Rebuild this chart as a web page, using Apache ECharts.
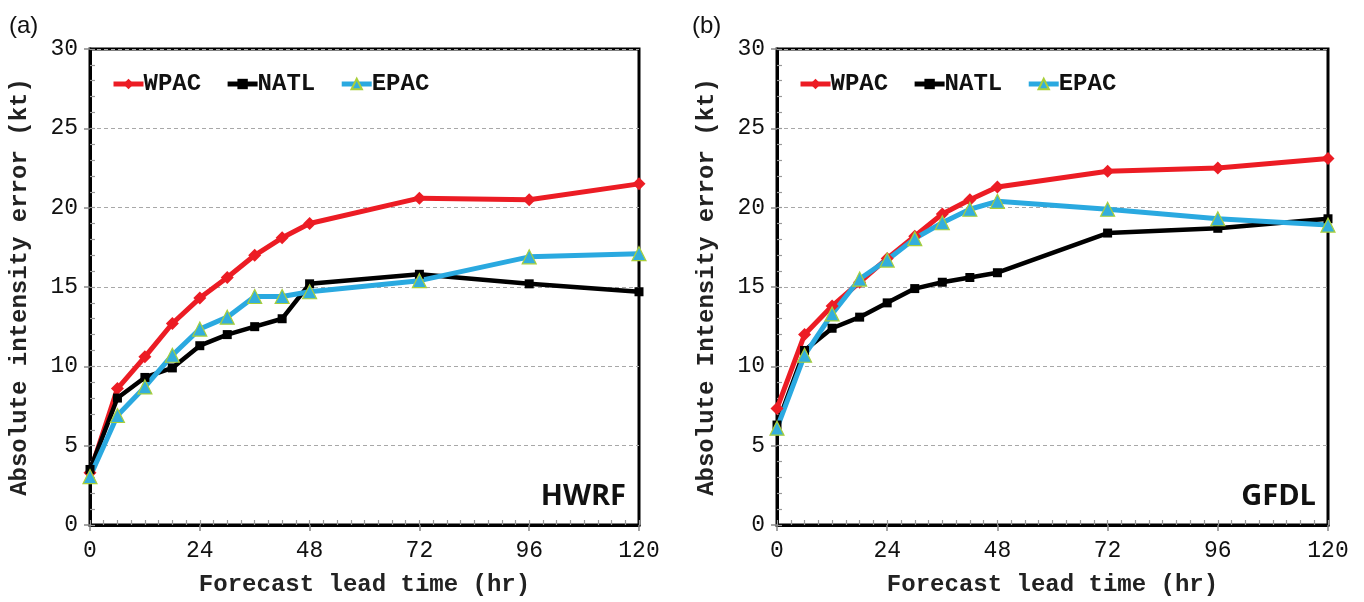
<!DOCTYPE html>
<html>
<head>
<meta charset="utf-8">
<script src="https://cdn.jsdelivr.net/npm/echarts@6/dist/echarts.min.js"></script>
<style>
html,body{margin:0;padding:0;background:#fff;}
#chart{width:1364px;height:602px;}
</style>
</head>
<body>
<div id="chart"></div>
<script>
// Forecast lead times (hr)
var leadTimes = [0, 6, 12, 18, 24, 30, 36, 42, 48, 72, 96, 120];
var seriesNames = ['WPAC', 'NATL', 'EPAC'];

// (a) HWRF absolute intensity error (kt)
var hwrfWPAC = [3.3, 8.6, 10.6, 12.7, 14.3, 15.6, 17.0, 18.1, 19.0, 20.6, 20.5, 21.5];
var hwrfNATL = [3.5, 8.0, 9.3, 9.9, 11.3, 12.0, 12.5, 13.0, 15.2, 15.8, 15.2, 14.7];
var hwrfEPAC = [3.05, 6.9, 8.7, 10.7, 12.35, 13.1, 14.4, 14.4, 14.7, 15.4, 16.9, 17.1];

// (b) GFDL absolute intensity error (kt)
var gfdlWPAC = [7.35, 12.0, 13.8, 15.3, 16.8, 18.2, 19.6, 20.5, 21.3, 22.3, 22.5, 23.1];
var gfdlNATL = [6.3, 11.0, 12.4, 13.1, 14.0, 14.9, 15.3, 15.6, 15.9, 18.4, 18.7, 19.3];
var gfdlEPAC = [6.1, 10.7, 13.3, 15.5, 16.7, 18.05, 19.05, 19.9, 20.4, 19.9, 19.3, 18.9];

var xTickInterval = 24, xMinorInterval = 3;
var yTickInterval = 5, yMinorInterval = 1;
var yTitles = ['Absolute intensity error (kt)', 'Absolute Intensity error (kt)'];
var xTitle = 'Forecast lead time (hr)';
var panelLabels = ['(a)', '(b)'];
var modelLabels = ['HWRF', 'GFDL'];

var colors = {WPAC: '#ec1c24', NATL: '#000000', EPAC: '#2aa9e0'};
var mono = '"Liberation Mono", "DejaVu Sans Mono", monospace';

var grids = [
  {left: 90, top: 49, width: 549, height: 479},
  {left: 777, top: 49, width: 551, height: 479}
];

function pairs(vals) { return leadTimes.map(function (t, i) { return [t, vals[i]]; }); }

var xAxes = [], yAxes = [], series = [];
grids.forEach(function (g, gi) {
  xAxes.push({
    type: 'value', gridIndex: gi, min: 0, max: 120, interval: xTickInterval, position: 'bottom',
    name: xTitle, nameLocation: 'middle', nameGap: 48,
    nameTextStyle: {fontFamily: mono, fontWeight: 'bold', fontSize: 24, color: '#222'},
    axisLine: {show: true, lineStyle: {color: '#000', width: 3}},
    axisTick: {show: true, inside: false, length: 6, lineStyle: {color: '#888', width: 1.5}},
    axisLabel: {fontFamily: mono, fontSize: 23, color: '#111', margin: 14},
    splitLine: {show: false}
  });
  yAxes.push({
    type: 'value', gridIndex: gi, min: 0, max: 30, interval: yTickInterval, position: 'left',
    name: yTitles[gi], nameLocation: 'middle', nameGap: 58, nameRotate: 90,
    nameTextStyle: {fontFamily: mono, fontWeight: 'bold', fontSize: 24, color: '#222'},
    axisLine: {show: true, lineStyle: {color: '#000', width: 3}},
    axisTick: {show: true, inside: false, length: 6, lineStyle: {color: '#888', width: 1.5}},
    axisLabel: {fontFamily: mono, fontSize: 23, color: '#111', margin: 12},
    splitLine: {show: true, lineStyle: {color: '#a8a8a8', type: [4, 3], width: 1.2}}
  });
});
// minor-tick axes (inside ticks)
grids.forEach(function (g, gi) {
  xAxes.push({
    type: 'value', gridIndex: gi, min: 0, max: 120, interval: xMinorInterval, position: 'bottom', offset: 0,
    axisLine: {show: false}, axisLabel: {show: false}, splitLine: {show: false},
    axisTick: {show: true, inside: true, length: 5, lineStyle: {color: '#999', width: 1.2}}
  });
  yAxes.push({
    type: 'value', gridIndex: gi, min: 0, max: 30, interval: yMinorInterval, position: 'left', offset: 0,
    axisLine: {show: false}, axisLabel: {show: false}, splitLine: {show: false},
    axisTick: {show: true, inside: true, length: 5, lineStyle: {color: '#999', width: 1.2}}
  });
});

var panelData = [
  {WPAC: hwrfWPAC, NATL: hwrfNATL, EPAC: hwrfEPAC},
  {WPAC: gfdlWPAC, NATL: gfdlNATL, EPAC: gfdlEPAC}
];
var styles = {
  WPAC: {symbol: 'diamond', symbolSize: 13, lineWidth: 5, item: {color: colors.WPAC}},
  NATL: {symbol: 'rect', symbolSize: 9, lineWidth: 4.5, item: {color: colors.NATL}},
  EPAC: {symbol: 'triangle', symbolSize: 14, lineWidth: 5, item: {color: '#33aedc', borderColor: '#a9cf3a', borderWidth: 1.2}}
};
panelData.forEach(function (pd, gi) {
  seriesNames.forEach(function (n) {
    var s = styles[n];
    series.push({
      name: n, type: 'line', xAxisIndex: gi, yAxisIndex: gi,
      data: pairs(pd[n]), symbol: s.symbol, symbolSize: s.symbolSize, showSymbol: true,
      lineStyle: {color: colors[n], width: s.lineWidth},
      itemStyle: s.item, color: colors[n], z: 3, clip: false
    });
  });
});

var legends = grids.map(function (g, gi) {
  return {
    left: g.left + 16, top: 67, orient: 'horizontal', itemWidth: 30, itemHeight: 13, itemGap: 24,
    data: seriesNames, selectedMode: false,
    lineStyle: {width: 5},
    textStyle: {fontFamily: mono, fontWeight: 'bold', fontSize: 24, color: '#111', padding: [0, 0, 0, -5]}
  };
});

var graphics = [];
grids.forEach(function (g, gi) {
  graphics.push({
    type: 'text', left: gi === 0 ? 9 : 692, top: 14,
    style: {text: panelLabels[gi], fontFamily: '"Liberation Sans", Arial, sans-serif', fontSize: 24, fill: '#111'}
  });
  graphics.push({
    type: 'text', right: gi === 0 ? 1364 - 626 : 1364 - 1316, top: 482,
    style: {text: modelLabels[gi], fontFamily: '"Open Sans", "Noto Sans", sans-serif', fontWeight: 'bold', fontSize: 29, fill: '#111'}
  });
});

var option = {
  animation: false,
  backgroundColor: '#fff',
  grid: grids.map(function (g) {
    return {left: g.left, top: g.top, width: g.width, height: g.height, show: true,
      borderColor: '#000', borderWidth: 3, backgroundColor: '#fff', containLabel: false};
  }),
  legend: legends,
  xAxis: xAxes,
  yAxis: yAxes,
  series: series,
  graphic: graphics
};

var chart = echarts.init(document.getElementById('chart'), null, {renderer: 'canvas'});
chart.setOption(option);
</script>
</body>
</html>
